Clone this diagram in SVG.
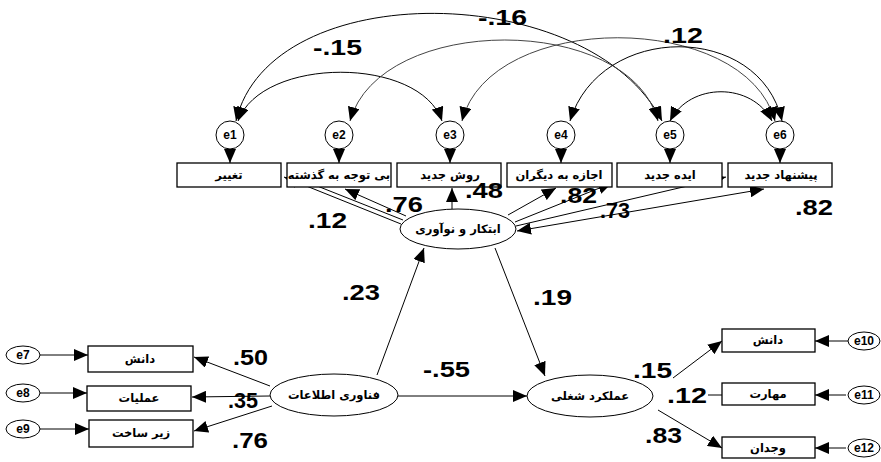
<svg xmlns="http://www.w3.org/2000/svg" width="881" height="462" viewBox="0 0 881 462">
<style>
.box{fill:#fff;stroke:#000;stroke-width:1.3}
.ell{fill:#fff;stroke:#000;stroke-width:1}
.ar{font-family:"DejaVu Sans","Noto Sans",sans-serif;font-weight:bold;font-size:11.5px;text-anchor:middle}
.num{font-family:"Liberation Sans",Arial,sans-serif;font-weight:bold;font-size:22px}
.el{font-family:"Liberation Sans",Arial,sans-serif;font-weight:bold;font-size:12px;text-anchor:middle}
.c{fill:none;stroke:#000;stroke-width:1}
.g{fill:none;stroke:#444;stroke-width:1}
</style>
<defs>
<marker id="ah" markerUnits="userSpaceOnUse" markerWidth="15" markerHeight="12" refX="14" refY="6" orient="auto-start-reverse"><path d="M0,0 L14,6 L0,12 z" fill="#000"/></marker>
</defs>
<rect width="881" height="462" fill="#fff"/>
<g id="connectors">
<path class="c" d="M236,121 C270,-25 590,-20 662,121" marker-start="url(#ah)" marker-end="url(#ah)"/>
<path class="c" d="M238,121 C262,56 420,56 442,121" marker-start="url(#ah)" marker-end="url(#ah)"/>
<path class="g" d="M350,121 C380,13 630,13 658,121" marker-start="url(#ah)" marker-end="url(#ah)"/>
<path class="g" d="M462,121 C490,10 745,10 775,121" marker-start="url(#ah)" marker-end="url(#ah)"/>
<path class="c" d="M570,121 C600,22 760,22 782,121" marker-start="url(#ah)" marker-end="url(#ah)"/>
<path class="c" d="M670,121 C690,82 752,82 772,121" marker-start="url(#ah)" marker-end="url(#ah)"/>
<line class="c" x1="230" y1="149" x2="230" y2="163" marker-end="url(#ah)"/>
<line class="c" x1="339" y1="149" x2="339" y2="163" marker-end="url(#ah)"/>
<line class="c" x1="450" y1="149" x2="450" y2="163" marker-end="url(#ah)"/>
<line class="c" x1="561" y1="149" x2="561" y2="163" marker-end="url(#ah)"/>
<line class="c" x1="670" y1="149" x2="670" y2="163" marker-end="url(#ah)"/>
<line class="c" x1="780" y1="149" x2="780" y2="163" marker-end="url(#ah)"/>
<line class="c" x1="401" y1="224" x2="284" y2="177" marker-end="url(#ah)"/>
<line class="c" x1="403" y1="220" x2="292" y2="176"/>
<line class="c" x1="406" y1="216" x2="345" y2="189" marker-end="url(#ah)"/>
<line class="c" x1="452" y1="209" x2="452" y2="188" marker-end="url(#ah)"/>
<line class="c" x1="508" y1="215" x2="556" y2="188" marker-end="url(#ah)"/>
<line class="c" x1="515" y1="222" x2="612" y2="183" marker-end="url(#ah)"/>
<line class="c" x1="516" y1="226" x2="726" y2="177" marker-end="url(#ah)"/>
<line class="c" x1="517" y1="231" x2="764" y2="189" marker-start="url(#ah)" marker-end="url(#ah)"/>
<line class="c" x1="377" y1="375" x2="424" y2="248" marker-end="url(#ah)"/>
<line class="c" x1="495" y1="248" x2="545" y2="376" marker-end="url(#ah)"/>
<line class="c" x1="398" y1="396" x2="527" y2="396" marker-end="url(#ah)"/>
<line class="c" x1="270" y1="386" x2="194" y2="357" marker-end="url(#ah)"/>
<line class="c" x1="270" y1="396" x2="192" y2="397" marker-end="url(#ah)"/>
<line class="c" x1="272" y1="406" x2="194" y2="431" marker-end="url(#ah)"/>
<line class="c" x1="40" y1="355" x2="88" y2="355" marker-end="url(#ah)"/>
<line class="c" x1="40" y1="393" x2="87" y2="393" marker-end="url(#ah)"/>
<line class="c" x1="40" y1="429" x2="89" y2="429" marker-end="url(#ah)"/>
<line class="c" x1="673" y1="378" x2="722" y2="341" marker-end="url(#ah)"/>
<line class="c" x1="708" y1="395" x2="722" y2="395" stroke-width="3"/>
<line class="c" x1="658" y1="410" x2="722" y2="448" marker-end="url(#ah)"/>
<line class="c" x1="848" y1="341" x2="815" y2="341" marker-end="url(#ah)"/>
<line class="c" x1="846" y1="395" x2="815" y2="395" marker-end="url(#ah)"/>
<line class="c" x1="846" y1="448" x2="815" y2="448" marker-end="url(#ah)"/>
</g>
<g id="e1"><circle class="ell" cx="230" cy="135" r="14"/><text class="el" x="230" y="139">e1</text></g>
<g id="e2"><circle class="ell" cx="339" cy="135" r="14"/><text class="el" x="339" y="139">e2</text></g>
<g id="e3"><circle class="ell" cx="450" cy="135" r="14"/><text class="el" x="450" y="139">e3</text></g>
<g id="e4"><circle class="ell" cx="561" cy="135" r="14"/><text class="el" x="561" y="139">e4</text></g>
<g id="e5"><circle class="ell" cx="670" cy="135" r="14"/><text class="el" x="670" y="139">e5</text></g>
<g id="e6"><circle class="ell" cx="780" cy="135" r="14"/><text class="el" x="780" y="139">e6</text></g>
<g id="b1"><rect class="box" x="177" y="163" width="104" height="24"/><text class="ar" x="229" y="179">تغییر</text></g>
<g id="b2"><rect class="box" x="287" y="163" width="104" height="24"/><text class="ar" x="339" y="179">بی توجه به گذشته</text></g>
<g id="b3"><rect class="box" x="397" y="163" width="104" height="24"/><text class="ar" x="450" y="179">روش جدید</text></g>
<g id="b4"><rect class="box" x="507" y="163" width="105" height="24"/><text class="ar" x="559" y="179">اجازه به دیگران</text></g>
<g id="b5"><rect class="box" x="617" y="163" width="105" height="24"/><text class="ar" x="670" y="179">ایده جدید</text></g>
<g id="b6"><rect class="box" x="728" y="163" width="104" height="24"/><text class="ar" x="781" y="179">پیشنهاد جدید</text></g>
<g id="innovation"><ellipse class="ell" cx="458" cy="229" rx="58" ry="20"/><text class="ar" x="458" y="233">ابتکار و نوآوری</text></g>
<g id="it"><ellipse class="ell" cx="334" cy="395" rx="64" ry="21"/><text class="ar" x="334" y="399">فناوری اطلاعات</text></g>
<g id="perf"><ellipse class="ell" cx="590" cy="396" rx="63" ry="21"/><text class="ar" x="590" y="400">عملکرد شغلی</text></g>
<g id="l1"><rect class="box" x="88" y="346" width="105" height="26"/><text class="ar" x="140" y="363">دانش</text></g>
<g id="l2"><rect class="box" x="87" y="386" width="104" height="25"/><text class="ar" x="139" y="402">عملیات</text></g>
<g id="l3"><rect class="box" x="89" y="420" width="104" height="27"/><text class="ar" x="141" y="437">زیر ساخت</text></g>
<g id="e7"><ellipse class="ell" cx="23" cy="355" rx="17" ry="9"/><text class="el" x="23" y="359">e7</text></g>
<g id="e8"><ellipse class="ell" cx="23" cy="393" rx="17" ry="9"/><text class="el" x="23" y="397">e8</text></g>
<g id="e9"><ellipse class="ell" cx="23" cy="429" rx="17" ry="9"/><text class="el" x="23" y="433">e9</text></g>
<g id="r1"><rect class="box" x="722" y="329" width="93" height="23"/><text class="ar" x="768" y="344">دانش</text></g>
<g id="r2"><rect class="box" x="722" y="383" width="93" height="22"/><text class="ar" x="768" y="398">مهارت</text></g>
<g id="r3"><rect class="box" x="722" y="437" width="93" height="21"/><text class="ar" x="768" y="452">وجدان</text></g>
<g id="e10"><ellipse class="ell" cx="864" cy="341" rx="16" ry="9"/><text class="el" x="864" y="345">e10</text></g>
<g id="e11"><ellipse class="ell" cx="864" cy="395" rx="16" ry="9"/><text class="el" x="864" y="399">e11</text></g>
<g id="e12"><ellipse class="ell" cx="864" cy="448" rx="16" ry="9"/><text class="el" x="864" y="452">e12</text></g>
<g id="labels">
<text class="num" x="478" y="25" textLength="49" lengthAdjust="spacingAndGlyphs">-.16</text>
<text class="num" x="313" y="55" textLength="49" lengthAdjust="spacingAndGlyphs">-.15</text>
<text class="num" x="663" y="43" textLength="40" lengthAdjust="spacingAndGlyphs">.12</text>
<text class="num" x="385" y="212" textLength="38" lengthAdjust="spacingAndGlyphs">.76</text>
<text class="num" x="465" y="198" textLength="38" lengthAdjust="spacingAndGlyphs">.48</text>
<text class="num" x="308" y="228" textLength="39" lengthAdjust="spacingAndGlyphs">.12</text>
<text class="num" x="560" y="203" textLength="37" lengthAdjust="spacingAndGlyphs">.82</text>
<text class="num" x="600" y="218" textLength="30" lengthAdjust="spacingAndGlyphs">.73</text>
<text class="num" x="795" y="215" textLength="38" lengthAdjust="spacingAndGlyphs">.82</text>
<text class="num" x="342" y="300" textLength="38" lengthAdjust="spacingAndGlyphs">.23</text>
<text class="num" x="533" y="305" textLength="39" lengthAdjust="spacingAndGlyphs">.19</text>
<text class="num" x="423" y="377" textLength="47" lengthAdjust="spacingAndGlyphs">-.55</text>
<text class="num" x="233" y="365" textLength="35" lengthAdjust="spacingAndGlyphs">.50</text>
<text class="num" x="228" y="408" textLength="30" lengthAdjust="spacingAndGlyphs">.35</text>
<text class="num" x="232" y="448" textLength="36" lengthAdjust="spacingAndGlyphs">.76</text>
<text class="num" x="633" y="378" textLength="39" lengthAdjust="spacingAndGlyphs">.15</text>
<text class="num" x="667" y="403" textLength="40" lengthAdjust="spacingAndGlyphs">.12</text>
<text class="num" x="645" y="443" textLength="37" lengthAdjust="spacingAndGlyphs">.83</text>
</g>
</svg>
